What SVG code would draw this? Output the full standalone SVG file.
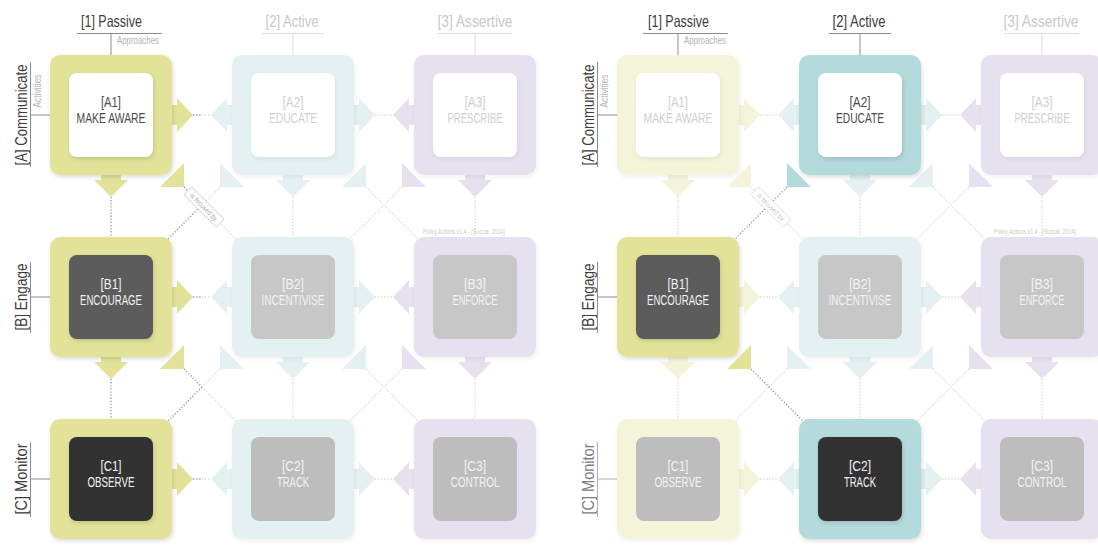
<svg xmlns="http://www.w3.org/2000/svg" xmlns:xlink="http://www.w3.org/1999/xlink" width="1098" height="546" viewBox="0 0 1098 546">
  <defs>
    <style>
      text { font-family: 'Liberation Sans', Arimo, sans-serif; }
      .mid { text-anchor: middle; }
      .hd { font-size: 16.5px; }
      .sm { font-size: 10px; fill: #b3b3b3; }
      .tiny { font-size: 7px; fill: #c9c9c9; }
      .code { font-size: 14px; text-anchor: middle; }
      .name { font-size: 14px; text-anchor: middle; }
      .on { fill: #3c3c3c; }
      .off { fill: #c8c8c8; }
      .dim { fill: #7c7c7c; }
      .ln-on { stroke: #8c8c8c; stroke-width: 1; fill: none; }
      .ln-off { stroke: #dcdcdc; stroke-width: 1; fill: none; }
      .ln-dim { stroke: #b0b0b0; stroke-width: 1; fill: none; }
      .yS { fill: #e2e399; }
      .yL { fill: #f3f4da; }
      .tS { fill: #b4dbdb; }
      .tL { fill: #e4f0f1; }
      .pL { fill: #e6e1ee; }
      .iw { fill: #ffffff; }
      .ib { fill: #5c5c5c; }
      .ic { fill: #333333; }
      .ig { fill: #c7c7c7; }
      .ih { fill: #bdbdbd; }
      .td { fill: #4a4a4a; }
      .tl { fill: #cfcfcf; }
      .tw { fill: #f2f2f2; }
      .dk { stroke: #979797; stroke-width: 1.3; stroke-dasharray: 1.3 1.8; fill: none; }
      .lt { stroke: #d8d8d8; stroke-width: 1.3; stroke-dasharray: 1.3 1.8; fill: none; }
      .tag rect { fill: #ffffff; stroke-width: 0.8; }
      .tag text { font-size: 7px; text-anchor: middle; }
    </style>
    <filter id="shA" x="-20%" y="-20%" width="140%" height="140%">
      <feDropShadow dx="1" dy="2" stdDeviation="2" flood-color="#000" flood-opacity="0.14"/>
    </filter>
    <filter id="shB" x="-20%" y="-20%" width="140%" height="140%">
      <feDropShadow dx="1" dy="2" stdDeviation="2" flood-color="#000" flood-opacity="0.06"/>
    </filter>
    <!-- arrow heads, drawn relative to the edge midpoint / corner of a box -->
    <path id="arR" d="M-4,-10 H5 V-17 L21,0 L5,17 V10 H-4 Z"/>
    <path id="arL" d="M4,-10 H-5 V-17 L-21,0 L-5,17 V10 H4 Z"/>
    <path id="arD" d="M-10,-4 V5 H-17 L0,22 L17,5 H10 V-4 Z"/>
    <path id="arBR" d="M12,-12 V12 H-12 Z"/>
    <path id="arBL" d="M-12,-12 V12 H12 Z"/>
  </defs>

  <rect width="1098" height="546" fill="#ffffff"/>

  <!-- dotted connectors -->
  <g id="connectors">
    <!-- left panel -->
    <path class="dk" d="M193,115 H202 M193,297 H202 M193,479 H202"/>
    <path class="lt" d="M202,115 H211 M202,297 H211 M202,479 H211"/>
    <path class="lt" d="M375,115 H393 M375,297 H393 M375,479 H393"/>
    <path class="dk" d="M111,197 V237 M111,379 V419"/>
    <path class="lt" d="M293,197 V237 M293,379 V419 M475,197 V237 M475,379 V419"/>
    <path class="dk" d="M184,187 L202,205 M202,205 L168,239 M184,369 L202,387 M202,387 L168,421"/>
    <path class="lt" d="M202,205 L236,239 M220,187 L202,205 M202,387 L236,421 M220,369 L202,387"/>
    <path class="lt" d="M366,187 L418,239 M402,187 L350,239 M366,369 L418,421 M402,369 L350,421"/>
    <g class="tag" transform="translate(204,207) rotate(45)">
      <rect x="-23" y="-5.5" width="46" height="11" rx="2" stroke="#c4c4c4"/>
      <text x="0" y="2.5" fill="#a6a6a6" textLength="36" lengthAdjust="spacingAndGlyphs">is focused by</text>
    </g>

    <!-- right panel -->
    <path class="lt" d="M760,115 H778 M760,297 H778 M760,479 H778"/>
    <path class="lt" d="M942,115 H960 M942,297 H960 M942,479 H960"/>
    <path class="lt" d="M678,197 V237 M678,379 V419 M860,197 V237 M860,379 V419 M1042,197 V237 M1042,379 V419"/>
    <path class="lt" d="M751,187 L803,239 M787,369 L735,421"/>
    <path class="dk" d="M787,187 L735,239 M751,369 L803,421"/>
    <path class="lt" d="M933,187 L985,239 M969,187 L917,239 M933,369 L985,421 M969,369 L917,421"/>
    <g class="tag" transform="translate(771,207) rotate(45)">
      <rect x="-23" y="-5.5" width="46" height="11" rx="2" stroke="#d6d6d6"/>
      <text x="0" y="2.5" fill="#c4c4c4" textLength="36" lengthAdjust="spacingAndGlyphs">is focused by</text>
    </g>
  </g>

  <!-- axis labels: left panel -->
  <g id="L-axes">
    <text class="hd mid on" x="111.5" y="27" textLength="61" lengthAdjust="spacingAndGlyphs">[1] Passive</text>
    <path class="ln-on" d="M77,33.5 H162 M111,33.5 V55"/>
    <text class="sm" x="117" y="44" textLength="42" lengthAdjust="spacingAndGlyphs">Approaches</text>
    <text class="hd mid off" x="292" y="27" textLength="53" lengthAdjust="spacingAndGlyphs">[2] Active</text>
    <path class="ln-off" d="M262,33.5 H324 M293,33.5 V55"/>
    <text class="hd mid off" x="475" y="27" textLength="75" lengthAdjust="spacingAndGlyphs">[3] Assertive</text>
    <path class="ln-off" d="M437,33.5 H512 M475,33.5 V55"/>

    <text class="hd mid on" transform="translate(27,115) rotate(-90)" textLength="101" lengthAdjust="spacingAndGlyphs">[A] Communicate</text>
    <path class="ln-on" d="M30.5,62 V167 M30.5,115 H50"/>
    <text class="sm mid" transform="translate(41,91) rotate(-90)" textLength="33" lengthAdjust="spacingAndGlyphs">Activities</text>
    <text class="hd mid on" transform="translate(27,297) rotate(-90)" textLength="67" lengthAdjust="spacingAndGlyphs">[B] Engage</text>
    <path class="ln-on" d="M30.5,262 V333 M30.5,297 H50"/>
    <text class="hd mid on" transform="translate(27,479) rotate(-90)" textLength="71" lengthAdjust="spacingAndGlyphs">[C] Monitor</text>
    <path class="ln-on" d="M30.5,442 V517 M30.5,479 H50"/>

    <text class="tiny mid" x="464" y="234" textLength="82" lengthAdjust="spacingAndGlyphs">Policy Actions v1.4 - (Succar, 2014)</text>
  </g>

  <!-- axis labels: right panel -->
  <g id="R-axes">
    <text class="hd mid on" x="678.5" y="27" textLength="61" lengthAdjust="spacingAndGlyphs">[1] Passive</text>
    <path class="ln-on" d="M643,33.5 H728 M678,33.5 V55"/>
    <text class="sm" x="684" y="44" textLength="42" lengthAdjust="spacingAndGlyphs">Approaches</text>
    <text class="hd mid on" x="859" y="27" textLength="53" lengthAdjust="spacingAndGlyphs">[2] Active</text>
    <path class="ln-on" d="M829,33.5 H891 M860,33.5 V55"/>
    <text class="hd mid off" x="1041" y="27" textLength="75" lengthAdjust="spacingAndGlyphs">[3] Assertive</text>
    <path class="ln-off" d="M1004,33.5 H1079 M1042,33.5 V55"/>

    <text class="hd mid on" transform="translate(594,115) rotate(-90)" textLength="101" lengthAdjust="spacingAndGlyphs">[A] Communicate</text>
    <path class="ln-on" d="M597.5,62 V167 M597.5,115 H617"/>
    <text class="sm mid" transform="translate(608,91) rotate(-90)" textLength="33" lengthAdjust="spacingAndGlyphs">Activities</text>
    <text class="hd mid on" transform="translate(594,297) rotate(-90)" textLength="67" lengthAdjust="spacingAndGlyphs">[B] Engage</text>
    <path class="ln-on" d="M597.5,262 V333 M597.5,297 H617"/>
    <text class="hd mid dim" transform="translate(594,479) rotate(-90)" textLength="71" lengthAdjust="spacingAndGlyphs">[C] Monitor</text>
    <path class="ln-dim" d="M597.5,442 V517 M597.5,479 H617"/>

    <text class="tiny mid" x="1035" y="234" textLength="82" lengthAdjust="spacingAndGlyphs">Policy Actions v1.4 - (Succar, 2014)</text>
  </g>

  <!-- left panel nodes -->
  <g id="L-A1" transform="translate(50,55)">
    <use xlink:href="#arR" href="#arR" x="122" y="60" class="yS"/>
    <use xlink:href="#arD" href="#arD" x="61" y="120" class="yS"/>
    <use xlink:href="#arBR" href="#arBR" x="122" y="120" class="yS"/>
    <rect class="yS" width="122" height="120" rx="10" filter="url(#shA)"/>
    <rect class="iw" x="19" y="18" width="84" height="84" rx="8" filter="url(#shA)"/>
    <text class="code td" x="61" y="52" textLength="20" lengthAdjust="spacingAndGlyphs">[A1]</text>
    <text class="name td" x="61" y="68" textLength="69" lengthAdjust="spacingAndGlyphs">MAKE AWARE</text>
  </g>
  <g id="L-A2" transform="translate(232,55)">
    <use xlink:href="#arL" href="#arL" x="0" y="60" class="tL"/>
    <use xlink:href="#arR" href="#arR" x="122" y="60" class="tL"/>
    <use xlink:href="#arD" href="#arD" x="61" y="120" class="tL"/>
    <use xlink:href="#arBL" href="#arBL" x="0" y="120" class="tL"/>
    <use xlink:href="#arBR" href="#arBR" x="122" y="120" class="tL"/>
    <rect class="tL" width="122" height="120" rx="10" filter="url(#shB)"/>
    <rect class="iw" x="19" y="18" width="84" height="84" rx="8" filter="url(#shB)"/>
    <text class="code tl" x="61" y="52" textLength="21" lengthAdjust="spacingAndGlyphs">[A2]</text>
    <text class="name tl" x="61" y="68" textLength="48" lengthAdjust="spacingAndGlyphs">EDUCATE</text>
  </g>
  <g id="L-A3" transform="translate(414,55)">
    <use xlink:href="#arL" href="#arL" x="0" y="60" class="pL"/>
    <use xlink:href="#arD" href="#arD" x="61" y="120" class="pL"/>
    <use xlink:href="#arBL" href="#arBL" x="0" y="120" class="pL"/>
    <rect class="pL" width="122" height="120" rx="10" filter="url(#shB)"/>
    <rect class="iw" x="19" y="18" width="84" height="84" rx="8" filter="url(#shB)"/>
    <text class="code tl" x="61" y="52" textLength="21" lengthAdjust="spacingAndGlyphs">[A3]</text>
    <text class="name tl" x="61" y="68" textLength="55" lengthAdjust="spacingAndGlyphs">PRESCRIBE</text>
  </g>
  <g id="L-B1" transform="translate(50,237)">
    <use xlink:href="#arR" href="#arR" x="122" y="60" class="yS"/>
    <use xlink:href="#arD" href="#arD" x="61" y="120" class="yS"/>
    <use xlink:href="#arBR" href="#arBR" x="122" y="120" class="yS"/>
    <rect class="yS" width="122" height="120" rx="10" filter="url(#shA)"/>
    <rect class="ib" x="19" y="18" width="84" height="84" rx="8" filter="url(#shA)"/>
    <text class="code tw" x="61" y="52" textLength="21" lengthAdjust="spacingAndGlyphs">[B1]</text>
    <text class="name tw" x="61" y="68" textLength="62" lengthAdjust="spacingAndGlyphs">ENCOURAGE</text>
  </g>
  <g id="L-B2" transform="translate(232,237)">
    <use xlink:href="#arL" href="#arL" x="0" y="60" class="tL"/>
    <use xlink:href="#arR" href="#arR" x="122" y="60" class="tL"/>
    <use xlink:href="#arD" href="#arD" x="61" y="120" class="tL"/>
    <use xlink:href="#arBL" href="#arBL" x="0" y="120" class="tL"/>
    <use xlink:href="#arBR" href="#arBR" x="122" y="120" class="tL"/>
    <rect class="tL" width="122" height="120" rx="10" filter="url(#shB)"/>
    <rect class="ig" x="19" y="18" width="84" height="84" rx="8"/>
    <text class="code tw" x="61" y="52" textLength="22" lengthAdjust="spacingAndGlyphs">[B2]</text>
    <text class="name tw" x="61" y="68" textLength="63" lengthAdjust="spacingAndGlyphs">INCENTIVISE</text>
  </g>
  <g id="L-B3" transform="translate(414,237)">
    <use xlink:href="#arL" href="#arL" x="0" y="60" class="pL"/>
    <use xlink:href="#arD" href="#arD" x="61" y="120" class="pL"/>
    <use xlink:href="#arBL" href="#arBL" x="0" y="120" class="pL"/>
    <rect class="pL" width="122" height="120" rx="10" filter="url(#shB)"/>
    <rect class="ig" x="19" y="18" width="84" height="84" rx="8"/>
    <text class="code tw" x="61" y="52" textLength="22" lengthAdjust="spacingAndGlyphs">[B3]</text>
    <text class="name tw" x="61" y="68" textLength="45" lengthAdjust="spacingAndGlyphs">ENFORCE</text>
  </g>
  <g id="L-C1" transform="translate(50,419)">
    <use xlink:href="#arR" href="#arR" x="122" y="60" class="yS"/>
    <rect class="yS" width="122" height="120" rx="10" filter="url(#shA)"/>
    <rect class="ic" x="19" y="18" width="84" height="84" rx="8" filter="url(#shA)"/>
    <text class="code tw" x="61" y="52" textLength="21" lengthAdjust="spacingAndGlyphs">[C1]</text>
    <text class="name tw" x="61" y="68" textLength="47" lengthAdjust="spacingAndGlyphs">OBSERVE</text>
  </g>
  <g id="L-C2" transform="translate(232,419)">
    <use xlink:href="#arL" href="#arL" x="0" y="60" class="tL"/>
    <use xlink:href="#arR" href="#arR" x="122" y="60" class="tL"/>
    <rect class="tL" width="122" height="120" rx="10" filter="url(#shB)"/>
    <rect class="ih" x="19" y="18" width="84" height="84" rx="8"/>
    <text class="code tw" x="61" y="52" textLength="22" lengthAdjust="spacingAndGlyphs">[C2]</text>
    <text class="name tw" x="61" y="68" textLength="32" lengthAdjust="spacingAndGlyphs">TRACK</text>
  </g>
  <g id="L-C3" transform="translate(414,419)">
    <use xlink:href="#arL" href="#arL" x="0" y="60" class="pL"/>
    <rect class="pL" width="122" height="120" rx="10" filter="url(#shB)"/>
    <rect class="ih" x="19" y="18" width="84" height="84" rx="8"/>
    <text class="code tw" x="61" y="52" textLength="22" lengthAdjust="spacingAndGlyphs">[C3]</text>
    <text class="name tw" x="61" y="68" textLength="49" lengthAdjust="spacingAndGlyphs">CONTROL</text>
  </g>

  <!-- right panel nodes -->
  <g id="R-A1" transform="translate(617,55)">
    <use xlink:href="#arR" href="#arR" x="122" y="60" class="yL"/>
    <use xlink:href="#arD" href="#arD" x="61" y="120" class="yL"/>
    <use xlink:href="#arBR" href="#arBR" x="122" y="120" class="yL"/>
    <rect class="yL" width="122" height="120" rx="10" filter="url(#shB)"/>
    <rect class="iw" x="19" y="18" width="84" height="84" rx="8" filter="url(#shB)"/>
    <text class="code tl" x="61" y="52" textLength="20" lengthAdjust="spacingAndGlyphs">[A1]</text>
    <text class="name tl" x="61" y="68" textLength="69" lengthAdjust="spacingAndGlyphs">MAKE AWARE</text>
  </g>
  <g id="R-A2" transform="translate(799,55)">
    <use xlink:href="#arL" href="#arL" x="0" y="60" class="tL"/>
    <use xlink:href="#arR" href="#arR" x="122" y="60" class="tL"/>
    <use xlink:href="#arD" href="#arD" x="61" y="120" class="tL"/>
    <use xlink:href="#arBL" href="#arBL" x="0" y="120" class="tS"/>
    <use xlink:href="#arBR" href="#arBR" x="122" y="120" class="tL"/>
    <rect class="tS" width="122" height="120" rx="10" filter="url(#shA)"/>
    <rect class="iw" x="19" y="18" width="84" height="84" rx="8" filter="url(#shA)"/>
    <text class="code td" x="61" y="52" textLength="21" lengthAdjust="spacingAndGlyphs">[A2]</text>
    <text class="name td" x="61" y="68" textLength="48" lengthAdjust="spacingAndGlyphs">EDUCATE</text>
  </g>
  <g id="R-A3" transform="translate(981,55)">
    <use xlink:href="#arL" href="#arL" x="0" y="60" class="pL"/>
    <use xlink:href="#arD" href="#arD" x="61" y="120" class="pL"/>
    <use xlink:href="#arBL" href="#arBL" x="0" y="120" class="pL"/>
    <rect class="pL" width="122" height="120" rx="10" filter="url(#shB)"/>
    <rect class="iw" x="19" y="18" width="84" height="84" rx="8" filter="url(#shB)"/>
    <text class="code tl" x="61" y="52" textLength="21" lengthAdjust="spacingAndGlyphs">[A3]</text>
    <text class="name tl" x="61" y="68" textLength="55" lengthAdjust="spacingAndGlyphs">PRESCRIBE</text>
  </g>
  <g id="R-B1" transform="translate(617,237)">
    <use xlink:href="#arR" href="#arR" x="122" y="60" class="yL"/>
    <use xlink:href="#arD" href="#arD" x="61" y="120" class="yL"/>
    <use xlink:href="#arBR" href="#arBR" x="122" y="120" class="yS"/>
    <rect class="yS" width="122" height="120" rx="10" filter="url(#shA)"/>
    <rect class="ib" x="19" y="18" width="84" height="84" rx="8" filter="url(#shA)"/>
    <text class="code tw" x="61" y="52" textLength="21" lengthAdjust="spacingAndGlyphs">[B1]</text>
    <text class="name tw" x="61" y="68" textLength="62" lengthAdjust="spacingAndGlyphs">ENCOURAGE</text>
  </g>
  <g id="R-B2" transform="translate(799,237)">
    <use xlink:href="#arL" href="#arL" x="0" y="60" class="tL"/>
    <use xlink:href="#arR" href="#arR" x="122" y="60" class="tL"/>
    <use xlink:href="#arD" href="#arD" x="61" y="120" class="tL"/>
    <use xlink:href="#arBL" href="#arBL" x="0" y="120" class="tL"/>
    <use xlink:href="#arBR" href="#arBR" x="122" y="120" class="tL"/>
    <rect class="tL" width="122" height="120" rx="10" filter="url(#shB)"/>
    <rect class="ig" x="19" y="18" width="84" height="84" rx="8"/>
    <text class="code tw" x="61" y="52" textLength="22" lengthAdjust="spacingAndGlyphs">[B2]</text>
    <text class="name tw" x="61" y="68" textLength="63" lengthAdjust="spacingAndGlyphs">INCENTIVISE</text>
  </g>
  <g id="R-B3" transform="translate(981,237)">
    <use xlink:href="#arL" href="#arL" x="0" y="60" class="pL"/>
    <use xlink:href="#arD" href="#arD" x="61" y="120" class="pL"/>
    <use xlink:href="#arBL" href="#arBL" x="0" y="120" class="pL"/>
    <rect class="pL" width="122" height="120" rx="10" filter="url(#shB)"/>
    <rect class="ig" x="19" y="18" width="84" height="84" rx="8"/>
    <text class="code tw" x="61" y="52" textLength="22" lengthAdjust="spacingAndGlyphs">[B3]</text>
    <text class="name tw" x="61" y="68" textLength="45" lengthAdjust="spacingAndGlyphs">ENFORCE</text>
  </g>
  <g id="R-C1" transform="translate(617,419)">
    <use xlink:href="#arR" href="#arR" x="122" y="60" class="yL"/>
    <rect class="yL" width="122" height="120" rx="10" filter="url(#shB)"/>
    <rect class="ih" x="19" y="18" width="84" height="84" rx="8"/>
    <text class="code tw" x="61" y="52" textLength="21" lengthAdjust="spacingAndGlyphs">[C1]</text>
    <text class="name tw" x="61" y="68" textLength="47" lengthAdjust="spacingAndGlyphs">OBSERVE</text>
  </g>
  <g id="R-C2" transform="translate(799,419)">
    <use xlink:href="#arL" href="#arL" x="0" y="60" class="tL"/>
    <use xlink:href="#arR" href="#arR" x="122" y="60" class="tL"/>
    <rect class="tS" width="122" height="120" rx="10" filter="url(#shA)"/>
    <rect class="ic" x="19" y="18" width="84" height="84" rx="8" filter="url(#shA)"/>
    <text class="code tw" x="61" y="52" textLength="22" lengthAdjust="spacingAndGlyphs">[C2]</text>
    <text class="name tw" x="61" y="68" textLength="32" lengthAdjust="spacingAndGlyphs">TRACK</text>
  </g>
  <g id="R-C3" transform="translate(981,419)">
    <use xlink:href="#arL" href="#arL" x="0" y="60" class="pL"/>
    <rect class="pL" width="122" height="120" rx="10" filter="url(#shB)"/>
    <rect class="ih" x="19" y="18" width="84" height="84" rx="8"/>
    <text class="code tw" x="61" y="52" textLength="22" lengthAdjust="spacingAndGlyphs">[C3]</text>
    <text class="name tw" x="61" y="68" textLength="49" lengthAdjust="spacingAndGlyphs">CONTROL</text>
  </g>
</svg>
